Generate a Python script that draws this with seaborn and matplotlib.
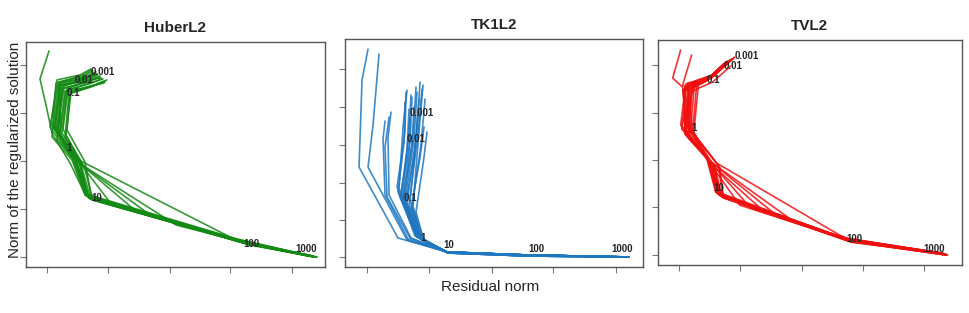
import pandas as pd
import matplotlib
matplotlib.use("Agg")
import matplotlib.pyplot as plt
import seaborn as sns

sns.set_style("white")
plt.rcParams["font.family"] = ["Liberation Sans", "DejaVu Sans"]

# lambda labels drawn along the L-curves
lambdas = ["0.001", "0.01", "0.1", "1", "10", "100", "1000"]

# ---------------- HuberL2: one row per curve (residual norm, solution norm) -------------
huber_x = [
    [2, -7, -1, 5, 23, 39, 191, 265],
    [50, 38, 14, 8, 28, 40, 192, 262],
    [55, 42, 18, 12, 32, 42, 196, 266],
    [46, 35, 12, 6, 26, 39, 190, 260],
    [52, 40, 20, 15, 34, 44, 200, 268],
    [58, 44, 22, 18, 36, 65, 198, 264],
    [48, 36, 15, 9, 30, 90, 194, 263],
    [53, 41, 17, 10, 31, 103, 196, 265],
    [44, 33, 10, 4, 24, 183, 202, 270],
    [57, 45, 19, 13, 33, 41, 188, 258],
    [50, 37, 16, 11, 29, 39, 193, 261],
    [54, 39, 13, 7, 27, 43, 197, 267],
    [60, 47, 23, 20, 38, 45, 203, 270],
    [45, 34, 9, 5, 25, 38, 189, 259],
    [51, 39, 12, 14, 33, 41, 195, 264],
    [56, 43, 21, 16, 35, 129, 199, 266],
    [49, 36, 11, 3, 25, 40, 191, 262],
    [53, 40, 15, 10, 30, 42, 194, 265],
    [47, 38, 13, 8, 27, 38, 190, 261],
    [58, 46, 24, 19, 37, 46, 201, 269],
]
huber_y = [
    [206, 178, 152, 124, 94, 61, 17, 1],
    [183, 178, 172, 128, 98, 62, 16, 1],
    [178, 173, 166, 122, 94, 59, 14, 0],
    [186, 180, 175, 131, 100, 63, 18, 2],
    [180, 176, 168, 124, 92, 58, 13, 0],
    [176, 170, 163, 120, 90, 52, 15, 1],
    [184, 178, 170, 126, 96, 45, 16, 1],
    [181, 175, 169, 127, 95, 42, 15, 1],
    [188, 182, 177, 133, 101, 20, 12, 0],
    [174, 171, 165, 123, 93, 60, 17, 2],
    [183, 177, 171, 125, 97, 62, 15, 1],
    [179, 176, 172, 129, 99, 58, 14, 0],
    [177, 172, 165, 127, 95, 57, 13, 0],
    [187, 181, 174, 120, 97, 62, 18, 2],
    [182, 176, 171, 119, 93, 60, 15, 1],
    [178, 174, 167, 128, 92, 32, 14, 1],
    [185, 179, 173, 130, 99, 61, 17, 1],
    [180, 175, 168, 117, 94, 59, 15, 1],
    [184, 179, 174, 132, 100, 63, 16, 2],
    [175, 171, 164, 121, 91, 57, 13, 0],
]
huber_lab_x = [56, 37, 26, 22, 50, 204, 259]
huber_lab_y = [185, 177, 164, 109, 59, 13, 8]

# ---------------- TK1L2 ----------------
tk1_x = [
    [1, -5, -8, 31, 80, 160, 261],
    [12, 6, 1, 40, 80, 160, 261],
    [22, 18, 20, 43, 79, 159, 261],
    [18, 16, 18, 41, 80, 160, 262],
    [40, 36, 32, 50, 80, 160, 261],
    [44, 42, 35, 52, 81, 161, 261],
    [50, 47, 38, 54, 80, 160, 262],
    [55, 51, 42, 55, 81, 160, 261],
    [47, 45, 36, 53, 80, 161, 260],
    [52, 49, 40, 53, 80, 159, 261],
    [57, 53, 44, 56, 81, 160, 262],
    [38, 37, 31, 49, 79, 160, 261],
    [42, 40, 34, 51, 80, 160, 261],
    [53, 50, 43, 55, 80, 160, 261],
    [49, 46, 37, 52, 81, 160, 261],
    [45, 43, 33, 50, 80, 160, 262],
    [58, 54, 45, 56, 80, 161, 261],
    [51, 48, 39, 53, 79, 160, 261],
    [56, 52, 46, 56, 81, 160, 262],
    [24, 21, 22, 44, 80, 160, 261],
    [43, 42, 36, 51, 80, 159, 261],
    [60, 57, 49, 57, 81, 160, 262],
    [39, 38, 30, 48, 80, 160, 261],
]
tk1_y = [
    [208, 177, 90, 19, 5, 2, 0],
    [203, 132, 90, 17, 5, 2, 0],
    [140, 110, 60, 19, 5, 2, 0],
    [136, 118, 62, 18, 5, 2, 0],
    [167, 130, 68, 20, 5, 2, 0],
    [162, 125, 60, 19, 4, 1, 0],
    [165, 118, 55, 18, 5, 2, 0],
    [168, 123, 52, 17, 4, 2, 0],
    [150, 112, 58, 20, 5, 1, 0],
    [158, 120, 54, 19, 5, 2, 0],
    [130, 100, 48, 17, 4, 1, 0],
    [155, 115, 65, 21, 5, 2, 0],
    [148, 108, 62, 20, 5, 2, 0],
    [175, 128, 56, 18, 5, 2, 0],
    [170, 122, 57, 19, 4, 1, 0],
    [160, 115, 60, 20, 5, 2, 0],
    [158, 112, 50, 17, 5, 1, 0],
    [145, 108, 55, 19, 5, 2, 0],
    [172, 126, 51, 17, 4, 1, 0],
    [145, 120, 62, 19, 5, 2, 0],
    [138, 105, 58, 20, 5, 2, 0],
    [125, 100, 45, 16, 4, 1, 0],
    [165, 125, 70, 21, 5, 2, 0],
]
tk1_lab_x = [55, 49, 43, 56, 82, 169, 255]
tk1_lab_y = [144, 118, 59, 19, 12, 8, 8]

# ---------------- TVL2 ----------------
tv_x = [
    [2, -6, 4, 8, 35, 42, 170, 266],
    [13, 4, 10, 6, 30, 40, 168, 265],
    [50, 32, 8, 3, 32, 40, 168, 266],
    [46, 28, 6, 12, 29, 38, 166, 264],
    [53, 35, 12, 7, 36, 43, 171, 268],
    [44, 27, 10, 11, 34, 61, 170, 265],
    [51, 33, 14, 9, 38, 86, 172, 267],
    [48, 30, 7, 2, 31, 116, 168, 266],
    [55, 36, 16, 12, 38, 161, 175, 268],
    [47, 29, 5, 6, 30, 39, 165, 263],
    [52, 34, 11, 6, 35, 42, 172, 267],
    [49, 31, 9, 10, 33, 41, 169, 266],
    [54, 36, 18, 14, 40, 44, 173, 268],
    [45, 28, 4, 8, 28, 37, 165, 263],
    [50, 33, 13, 10, 37, 72, 171, 267],
    [52, 32, 9, 14, 33, 41, 170, 266],
    [48, 30, 15, 3, 30, 100, 168, 265],
    [56, 38, 20, 15, 41, 45, 174, 269],
    [43, 26, 6, 9, 29, 38, 166, 264],
]
tv_y = [
    [205, 177, 168, 122, 90, 60, 15, 1],
    [200, 170, 166, 127, 94, 61, 16, 1],
    [194, 178, 170, 126, 93, 60, 15, 1],
    [192, 175, 167, 128, 95, 62, 16, 2],
    [196, 180, 172, 122, 90, 58, 14, 0],
    [190, 174, 165, 120, 88, 50, 15, 1],
    [195, 179, 168, 118, 86, 43, 14, 1],
    [191, 176, 171, 130, 94, 33, 17, 1],
    [197, 181, 174, 125, 92, 20, 14, 0],
    [193, 176, 166, 124, 96, 63, 17, 2],
    [189, 173, 163, 121, 89, 59, 13, 1],
    [194, 178, 169, 127, 91, 60, 15, 1],
    [196, 180, 171, 123, 89, 58, 14, 0],
    [191, 175, 165, 132, 97, 63, 17, 2],
    [193, 177, 167, 119, 87, 47, 14, 1],
    [195, 178, 172, 125, 92, 60, 15, 1],
    [192, 176, 168, 129, 95, 38, 16, 1],
    [198, 182, 173, 121, 88, 57, 13, 0],
    [189, 173, 164, 127, 96, 62, 17, 2],
]
tv_lab_x = [68, 54, 35, 15, 40, 176, 255]
tv_lab_y = [199, 189, 175, 127, 67, 16, 6]

panels = [
    dict(title="HuberL2", xs=huber_x, ys=huber_y, lx=huber_lab_x, ly=huber_lab_y,
         color="#138a13", rect=[0.0268, 0.147, 0.3082, 0.719],
         xlim=(-21, 278), ylim=(-10, 215),
         xticks=[0, 61, 123, 183, 245], yticks=[0, 48, 96, 144, 192]),
    dict(title="TK1L2", xs=tk1_x, ys=tk1_y, lx=tk1_lab_x, ly=tk1_lab_y,
         color="#1f77c0", rect=[0.3557, 0.147, 0.3072, 0.728],
         xlim=(-22, 276), ylim=(-10, 218),
         xticks=[0, 62, 125, 186, 249], yticks=[0, 37, 74, 112, 150, 188]),
    dict(title="TVL2", xs=tv_x, ys=tv_y, lx=tv_lab_x, ly=tv_lab_y,
         color="#f01010", rect=[0.678, 0.153, 0.3134, 0.719],
         xlim=(-21, 283), ylim=(-10, 215),
         xticks=[0, 61, 123, 184, 245], yticks=[0, 48, 95, 142, 190]),
]

fig = plt.figure(figsize=(9.7, 3.13), dpi=100)

for p in panels:
    rows = []
    for k, (cx, cy) in enumerate(zip(p["xs"], p["ys"])):
        for i, (a, b) in enumerate(zip(cx, cy)):
            rows.append({"curve": k, "step": i, "residual": a, "norm": b})
    df = pd.DataFrame(rows)

    ax = fig.add_axes(p["rect"])
    sns.lineplot(data=df, x="residual", y="norm", units="curve", estimator=None,
                 sort=False, color=p["color"], lw=1.2, alpha=0.85, ax=ax)
    for lab, a, b in zip(lambdas, p["lx"], p["ly"]):
        ax.text(a, b, lab, fontsize=7, fontweight="bold", ha="center", va="center")

    ax.set_xlim(*p["xlim"])
    ax.set_ylim(*p["ylim"])
    ax.set_xticks(p["xticks"])
    ax.set_yticks(p["yticks"])
    ax.set_xticklabels([])
    ax.set_yticklabels([])
    ax.tick_params(direction="out", length=4, width=0.8, color="#777777",
                   bottom=True, left=True)
    for s in ax.spines.values():
        s.set_color("#555555")
        s.set_linewidth(1.0)
    ax.set_xlabel("")
    ax.set_ylabel("")
    ax.set_title(p["title"], fontsize=11, fontweight="bold", pad=7)

fig.text(0.015, 0.52, "Norm of the regularized solution", rotation=90,
         fontsize=11, ha="center", va="center")
fig.text(0.505, 0.083, "Residual norm", fontsize=11, ha="center", va="center")

fig.savefig("out.png", dpi=100)
